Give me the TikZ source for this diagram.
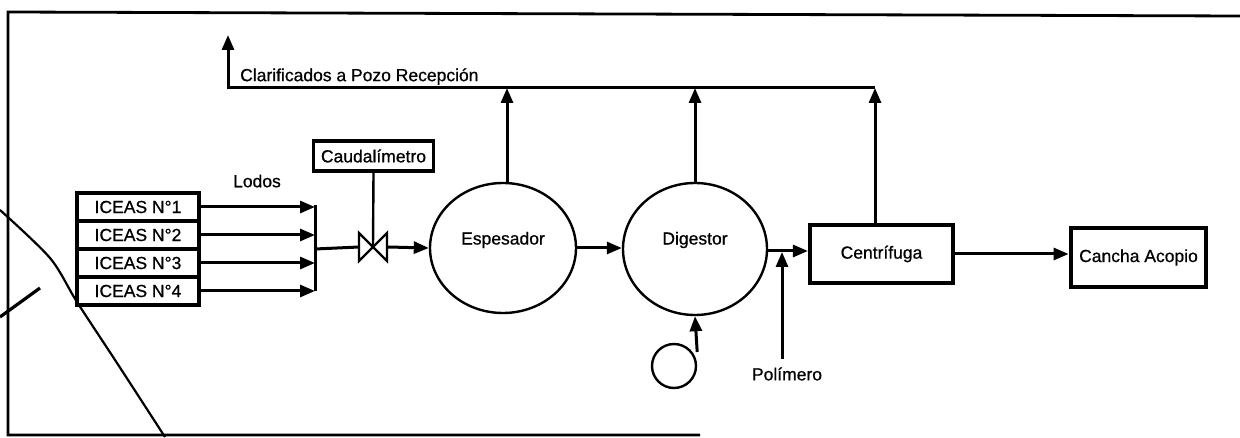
\documentclass[tikz,border=0pt]{standalone}
\usepackage{fontspec}
\setmainfont[FakeBold=0.7]{Liberation Sans}
\usetikzlibrary{arrows.meta,shapes.geometric}
\begin{document}
\begin{tikzpicture}[x=1pt,y=-1pt,
  every node/.style={font=\fontsize{17.5}{20}\selectfont, inner sep=0pt},
  ln/.style={line width=3pt},
  arr/.style={line width=3pt, -{Triangle[length=15pt,width=12pt]}},
  icbox/.style={draw, line width=4pt, minimum width=122pt, minimum height=28pt},
  tank/.style={draw, ellipse, line width=2.4pt},
  unit/.style={draw, line width=4.2pt}
]
\useasboundingbox (0,0) rectangle (1240,438);
% frame
\draw[line width=2.8pt] (1240,16) -- (8,12) -- (8,435) -- (700,435);
% scan marks
\draw[line width=2.2pt] plot[smooth] coordinates {(0,210) (50,258) (77,302) (117,363) (165,437)};
\draw[line width=3.2pt] (0,317) -- (40,288);

% ICEAS
\node[icbox] (i1) at (138,207) {ICEAS N°1};
\node[icbox] (i2) at (138,235) {ICEAS N°2};
\node[icbox] (i3) at (138,263) {ICEAS N°3};
\node[icbox] (i4) at (138,291) {ICEAS N°4};
\node (lodos) at (257,181) {Lodos};
\coordinate (col) at (315,249);
\coordinate (colT) at (315,205);
\coordinate (colB) at (315,291);
\draw[ln] (colT) -- (colB);
\foreach \k in {1,...,4}{
  \draw[arr] (i\k.east) -- (i\k.east -| col);
}
% valve
\coordinate (v) at (373,247);
\coordinate (vl) at (359,247);
\coordinate (vr) at (388,247);
\draw[line width=2.4pt, line join=miter] (359,233) -- (359,261) -- (387,233) -- (387,261) -- cycle;
\draw[ln] (col) -- (vl);
\node[draw, line width=3.8pt, minimum width=120pt, minimum height=30pt] (cau) at (373.5,156) {Caudalímetro};
\draw[line width=2.4pt] (cau.south) -- (v);

% tanks
\node[tank, minimum width=146pt, minimum height=130pt] (esp) at (503,248) {};
\node at (503,240) {Espesador};
\node[tank, minimum width=144pt, minimum height=132pt] (dig) at (695,249) {};
\node at (695,240) {Digestor};
\draw[arr] (vr) -- (esp.west);
\draw[arr] (esp.east) -- (esp.east -| dig.west);

% centrifuga, cancha
\node[unit, minimum width=143pt, minimum height=58pt] (cen) at (881.5,254) {Centrífuga};
\node[unit, line width=4.8pt, minimum width=135pt, minimum height=59pt] (can) at (1138.5,257.5) {Cancha Acopio};
\draw[arr] (dig.east |- 0,251) -- (cen.west |- 0,251);
\draw[arr] (cen.east |- 0,254) -- (can.west |- 0,254);

% polimero
\node (pol) at (787,374) {Polímero};
\coordinate (polT) at (782,359);
\draw[arr] (polT) -- (782,252);

% pump
\node[draw, circle, line width=2.4pt, minimum size=44pt] (pump) at (674,366) {};
\draw[arr] (pump.east |- 0,352) -- (dig.south);

% clarificados
\coordinate (c0) at (228,88);
\coordinate (cEnd) at (228,35);
\draw[arr] (507,183) -- (507,88);
\draw[arr] (695,183) -- (695,88);
\draw[arr] (cen.north -| 875,0) -- (875,88);
\draw[arr] (875,88) -- (c0) -- (cEnd);
\node[anchor=south west] (clar) at (240,85) {Clarificados a Pozo Recepción};
\end{tikzpicture}
\end{document}
